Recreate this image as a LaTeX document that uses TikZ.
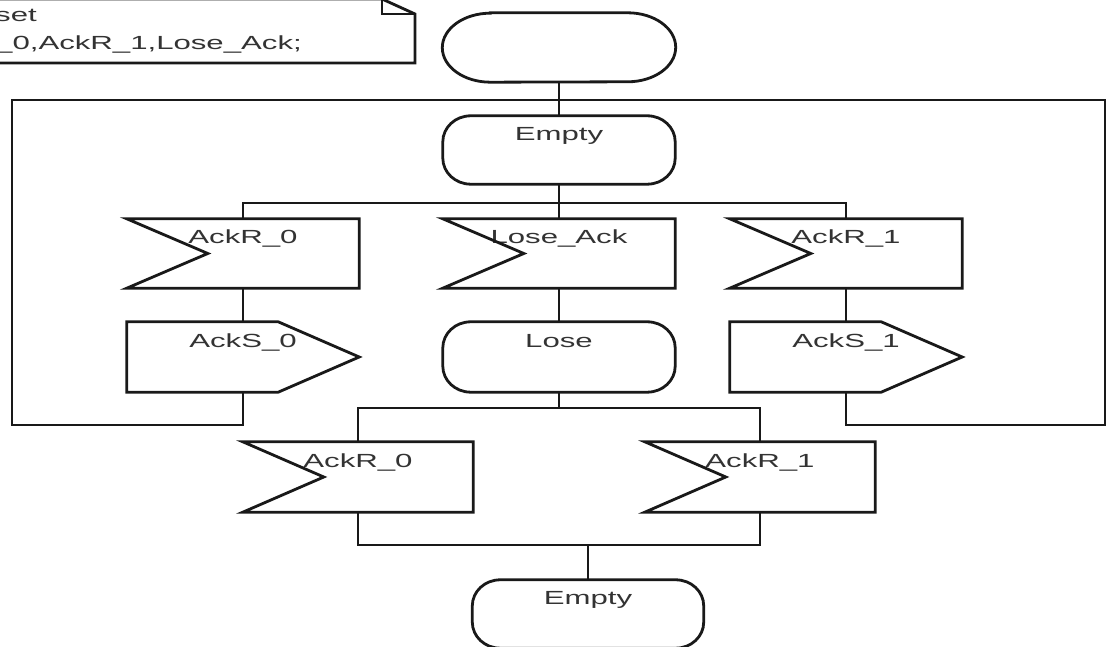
\documentclass[tikz,border=0pt]{standalone}
\usepackage{fontspec}
\usetikzlibrary{calc}
\newfontfamily\diafont[FakeStretch=1.64]{Liberation Sans}

% outline of an SDL input signal (notch on the left)
\newcommand\drawinput[1]{%
  \draw[outline] (#1.north west) -- (#1.north east) -- (#1.south east)
    -- (#1.south west) -- ($(#1.west)+(81,0)$) -- cycle;}
% outline of an SDL output signal (point on the right)
\newcommand\drawoutput[1]{%
  \draw[outline] (#1.north west) -- ($(#1.north east)-(81,0)$) -- (#1.east)
    -- ($(#1.south east)-(81,0)$) -- (#1.south west) -- cycle;}
% outline of a state: rectangle with elliptic corners
\newcommand\drawstate[1]{%
  \draw[outline] ($(#1.north west)+(28,0)$) -- ($(#1.north east)-(28,0)$)
    arc[start angle=90,end angle=0,x radius=28,y radius=26]
    -- ($(#1.south east)+(0,26)$)
    arc[start angle=0,end angle=-90,x radius=28,y radius=26]
    -- ($(#1.south west)+(28,0)$)
    arc[start angle=270,end angle=180,x radius=28,y radius=26]
    -- ($(#1.north west)-(0,26)$)
    arc[start angle=180,end angle=90,x radius=28,y radius=26] -- cycle;}
% outline of the start symbol: elliptic ends
\newcommand\drawstart[1]{%
  \draw[outline] ($(#1.north west)+(48,0)$) -- ($(#1.north east)-(48,0)$)
    arc[start angle=90,end angle=-90,x radius=48,y radius=34.5]
    -- ($(#1.south west)+(48,0)$)
    arc[start angle=270,end angle=90,x radius=48,y radius=34.5] -- cycle;}

\begin{document}
\begin{tikzpicture}[x=1pt,y=1pt,
  outline/.style={draw=black!90,line width=2.8pt,line join=miter},
  wire/.style={draw=black!90,line width=2.8pt},
  txt/.style={font=\diafont\fontsize{19}{23}\selectfont,text=black!80},
  box/.style={txt,inner sep=0pt,minimum width=232,minimum height=69,
    text height=14pt,text depth=33pt},
  sigbox/.style={box},
  statebox/.style={box,minimum height=68},
  startbox/.style={box,minimum width=233},
  notetext/.style={txt,inner sep=0pt,anchor=base west}]
\useasboundingbox (0,0) rectangle (1108,647);
\clip (0,0) rectangle (1108,647);

% text symbol in the corner
\draw[outline] (-10,648) -- (382,648) -- (415,633) -- (415,584) -- (-10,584);
\draw[outline] (382,648) -- (382,633) -- (415,633);
\node[notetext] (note1) at (-5,625) {set};
\node[notetext] (note2) at (-5,597) {\_0,AckR\_1,Lose\_Ack;};

% symbols
\node[startbox] (start) at (559,599.5) {};
\node[statebox] (empty1) at (559,497) {Empty};
\node[sigbox] (ar0) at (243,393.5) {AckR\_0};
\node[sigbox] (lack) at (559,393.5) {Lose\_Ack};
\node[sigbox] (ar1) at (846,393.5) {AckR\_1};
\node[sigbox,minimum height=70] (as0) at (243,290) {AckS\_0};
\node[statebox,minimum height=70] (lose) at (559,290) {Lose};
\node[sigbox,minimum height=70] (as1) at (846,290) {AckS\_1};
\node[sigbox,minimum width=230,minimum height=70] (br0) at (358,170) {AckR\_0};
\node[sigbox,minimum width=230,minimum height=70] (br1) at (760,170) {AckR\_1};
\node[statebox,minimum width=231] (empty2) at (588,33) {Empty};

\drawstart{start}
\drawstate{empty1}
\drawinput{ar0}
\drawinput{lack}
\drawinput{ar1}
\drawoutput{as0}
\drawstate{lose}
\drawoutput{as1}
\drawinput{br0}
\drawinput{br1}
\drawstate{empty2}

% junction points
\coordinate (jtop) at (559,547);
\coordinate (b1) at (559,444);
\coordinate (b2) at (559,239);
\coordinate (j3) at (588,102);

% flow lines
\draw[wire] (start.south) -- (empty1.north);
\draw[wire] (empty1.south) -- (b1);
\draw[wire] (ar0.north) |- (b1) -| (ar1.north);
\draw[wire] (b1) -- (lack.north);
\draw[wire] (ar0.south) -- (as0.north);
\draw[wire] (lack.south) -- (lose.north);
\draw[wire] (ar1.south) -- (as1.north);
\draw[wire] (lose.south) -- (b2);
\draw[wire] (br0.north) |- (b2) -| (br1.north);
\draw[wire] (br0.south) |- (j3) -| (br1.south);
\draw[wire] (j3) -- (empty2.north);

% loops back to the line above the first state
\draw[wire] (as0.south) -- (as0.south |- 0,222) -- (12,222) -- (12,547) -- (jtop);
\draw[wire] (as1.south) -- (as1.south |- 0,222) -- (1105,222) -- (1105,547) -- (jtop);
\end{tikzpicture}
\end{document}
